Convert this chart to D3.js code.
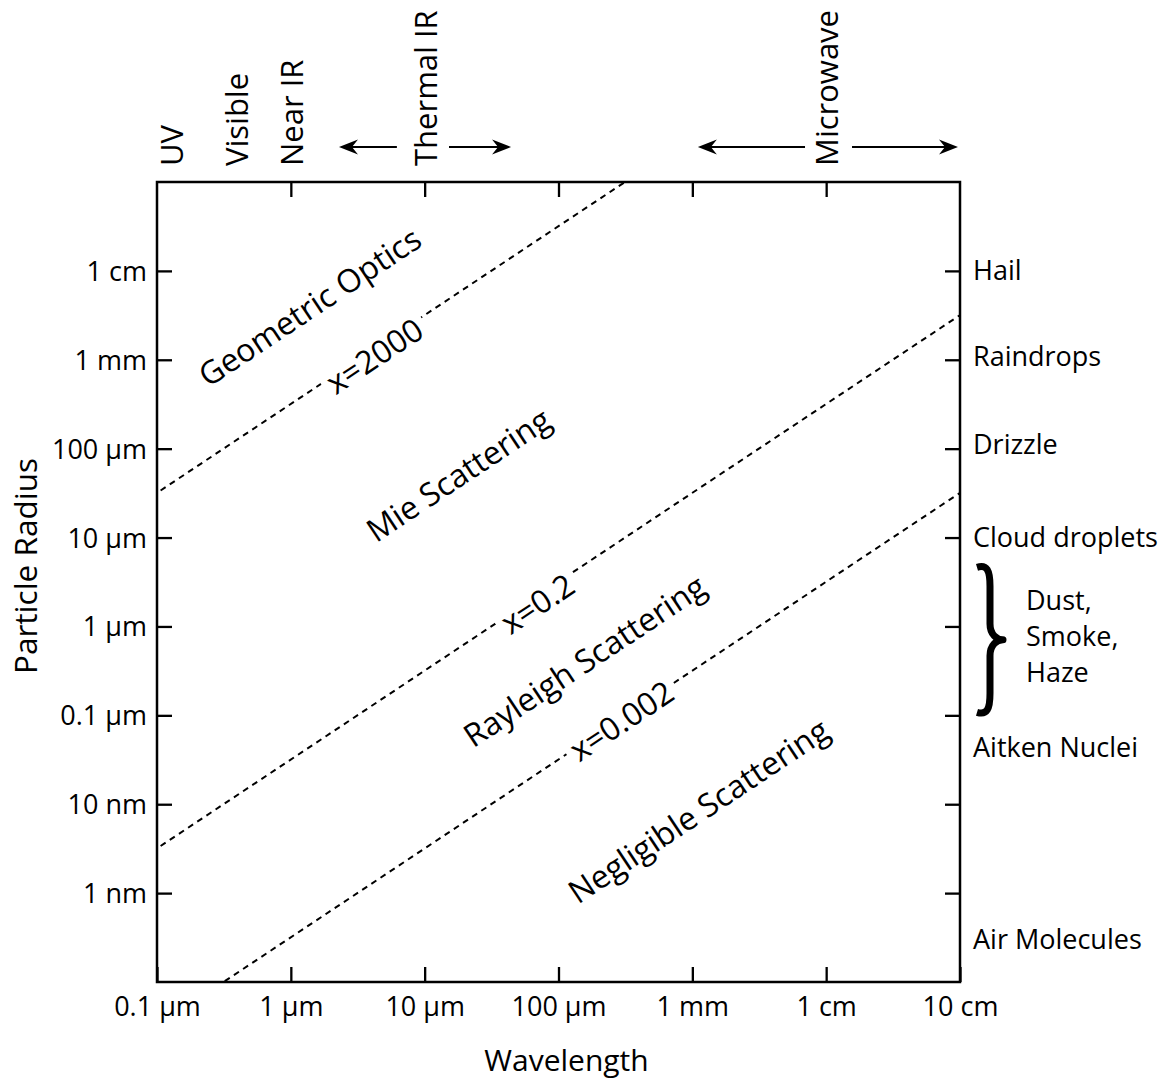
<!DOCTYPE html>
<html><head><meta charset="utf-8">
<script src="https://cdn.jsdelivr.net/npm/d3@7"></script>
<style>
body{margin:0;background:#fff}
text{font-family:"Open Sans",sans-serif;fill:#000}
</style>
</head><body>
<svg id="c" width="1171" height="1082"></svg>
<script>
// ---- data (metres) ----
const xTickValues = [1e-7, 1e-6, 1e-5, 1e-4, 1e-3, 1e-2, 1e-1];
const xTickLabels = ["0.1 μm", "1 μm", "10 μm", "100 μm", "1 mm", "1 cm", "10 cm"];
const yTickValues = [1e-2, 1e-3, 1e-4, 1e-5, 1e-6, 1e-7, 1e-8, 1e-9];
const yTickLabels = ["1 cm", "1 mm", "100 μm", "10 μm", "1 μm", "0.1 μm", "10 nm", "1 nm"];
const sizeParameters = [2000, 0.2, 0.002];
const lineLabels = ["x=2000", "x=0.2", "x=0.002"];
const lineLabelPos = [[4.18e-6, 1.13e-3], [6.9e-5, 1.84e-6], [2.93e-4, 8.85e-8]];
const regionNames = ["Geometric Optics", "Mie Scattering", "Rayleigh Scattering", "Negligible Scattering"];
const regionPos = [[1.37e-6, 4.03e-3], [1.77e-5, 5.19e-5], [1.55e-4, 4.19e-7], [1.1e-3, 8.6e-9]];
const bandNames = ["UV", "Visible", "Near IR", "Thermal IR", "Microwave"];
const bandPos = [1.27e-7, 3.9e-7, 1e-6, 1e-5, 1e-2];
const bandArrows = [[6.2e-6, 2.29e-6], [1.52e-5, 4.42e-5], [6.95e-3, 1.1e-3], [1.56e-2, 9.66e-2]]; // [tail, tip]
const particleNames = ["Hail", "Raindrops", "Drizzle", "Cloud droplets", "Aitken Nuclei", "Air Molecules"];
const particleRadii = [1e-2, 1.1e-3, 1.12e-4, 1e-5, 4.3e-8, 3e-10];
const aerosolRange = [1e-7, 5e-6];
const aerosolNames = ["Dust,", "Smoke,", "Haze"];

// ---- layout ----
const L = 157, R = 960, T = 182, B = 982;
const svg = d3.select("#c");
const x = d3.scaleLog().domain([1e-7, 1e-1]).range([L, R]);
const y = d3.scaleLog().domain([1e-10, 1e-1]).range([B, T]);
const TICK = 15;
const SMALL = 27, BIG = 32;

// clip
svg.append("clipPath").attr("id", "clip").append("rect")
  .attr("x", L).attr("y", T).attr("width", R - L).attr("height", B - T);

// dashed lines r = x*λ/(2π)
const lineGen = d3.line().x(d => x(d[0])).y(d => y(d[1]));
const lg = svg.append("g").attr("clip-path", "url(#clip)");
sizeParameters.forEach(p => {
  const pts = [1e-8, 1].map(l => [l, p * l / (2 * Math.PI)]);
  lg.append("path").attr("d", lineGen(pts))
    .attr("fill", "none").attr("stroke", "#000").attr("stroke-width", 2)
    .attr("stroke-dasharray", "6,5");
});

const angle = Math.atan2(y(1e-3) - y(1e-4), x(1e-3) - x(1e-4)) * 180 / Math.PI;

function diagLabel(txt, pos, bg) {
  const g = svg.append("g")
    .attr("transform", `translate(${x(pos[0])},${y(pos[1])}) rotate(${angle})`);
  const t = g.append("text").attr("text-anchor", "middle")
    .attr("dominant-baseline", "central").attr("font-size", BIG).text(txt);
  if (bg) {
    const b = t.node().getBBox();
    g.insert("rect", "text").attr("x", b.x - 6).attr("y", b.y + 4)
      .attr("width", b.width + 12).attr("height", b.height - 8).attr("fill", "#fff");
  }
}
lineLabels.forEach((t, i) => diagLabel(t, lineLabelPos[i], true));
regionNames.forEach((t, i) => diagLabel(t, regionPos[i], false));

// frame
svg.append("rect").attr("x", L).attr("y", T).attr("width", R - L).attr("height", B - T)
  .attr("fill", "none").attr("stroke", "#000").attr("stroke-width", 2.5);

// axes with inward ticks
const axB = d3.axisBottom(x).tickValues(xTickValues).tickFormat((d, i) => xTickLabels[i]).tickSizeInner(-TICK).tickSizeOuter(0);
const axT = d3.axisTop(x).tickValues(xTickValues.slice(1, -1)).tickFormat("").tickSizeInner(-TICK).tickSizeOuter(0);
const axL = d3.axisLeft(y).tickValues(yTickValues).tickFormat((d, i) => yTickLabels[i]).tickSizeInner(-TICK).tickSizeOuter(0).tickPadding(10);
const axR = d3.axisRight(y).tickValues(yTickValues).tickFormat("").tickSizeInner(-TICK).tickSizeOuter(0);

function styleAxis(g) {
  g.select(".domain").remove();
  g.selectAll(".tick line").attr("stroke", "#000").attr("stroke-width", 2.3);
  g.selectAll(".tick text").attr("font-family", "Open Sans").attr("font-size", SMALL).attr("fill", "#000");
}
svg.append("g").attr("transform", `translate(0,${B})`).call(axB).call(styleAxis)
  .selectAll(".tick text").attr("dy", null).attr("y", 34);
svg.append("g").attr("transform", `translate(0,${T})`).call(axT).call(styleAxis);
svg.append("g").attr("transform", `translate(${L},0)`).call(axL).call(styleAxis)
  .selectAll(".tick text").attr("dy", "0.35em");
svg.append("g").attr("transform", `translate(${R},0)`).call(axR).call(styleAxis);

// axis titles
svg.append("text").attr("x", (L + R) / 2 + 8).attr("y", 1071).attr("text-anchor", "middle")
  .attr("font-size", 30).text("Wavelength");
svg.append("text").attr("transform", `translate(37,${(T + B) / 2 - 16}) rotate(-90)`)
  .attr("text-anchor", "middle").attr("font-size", 31.5).text("Particle Radius");

// band labels (top)
bandNames.forEach((n, i) => {
  svg.append("text").attr("transform", `translate(${x(bandPos[i]) + 12},166) rotate(-90)`)
    .attr("font-size", 31).text(n);
});
// arrows
const ay = 147;
bandArrows.forEach(a => {
  const x0 = x(a[0]), x1 = x(a[1]);
  const dir = Math.sign(x1 - x0);
  svg.append("line").attr("x1", x0).attr("x2", x1 - dir * 10).attr("y1", ay).attr("y2", ay)
    .attr("stroke", "#000").attr("stroke-width", 2);
  const p = d3.path();
  p.moveTo(x1, ay);
  p.lineTo(x1 - dir * 19, ay - 7.5);
  p.lineTo(x1 - dir * 13, ay);
  p.lineTo(x1 - dir * 19, ay + 7.5);
  p.closePath();
  svg.append("path").attr("d", p.toString()).attr("fill", "#000");
});

// particle labels (right)
particleNames.forEach((n, i) => {
  svg.append("text").attr("x", R + 13).attr("y", y(particleRadii[i])).attr("dy", "0.35em")
    .attr("font-size", SMALL).text(n);
});

// brace
const y0 = y(aerosolRange[1]), y1 = y(aerosolRange[0]), ym = (y0 + y1) / 2;
const bx0 = R + 17, bx1 = R + 30, bx2 = R + 43;
const bp = d3.path();
bp.moveTo(bx0, y0 + 3);
bp.bezierCurveTo(bx0 + 10, y0, bx1, y0 + 6, bx1, y0 + 22);
bp.lineTo(bx1, ym - 16);
bp.bezierCurveTo(bx1, ym - 5, bx2 - 6, ym, bx2, ym);
bp.bezierCurveTo(bx2 - 6, ym, bx1, ym + 5, bx1, ym + 16);
bp.lineTo(bx1, y1 - 22);
bp.bezierCurveTo(bx1, y1 - 6, bx0 + 10, y1, bx0, y1 - 3);
svg.append("path").attr("d", bp.toString()).attr("fill", "none")
  .attr("stroke", "#000").attr("stroke-width", 7).attr("stroke-linejoin", "round");
aerosolNames.forEach((n, i) => {
  svg.append("text").attr("x", R + 66).attr("y", ym - 30 + i * 36).attr("font-size", SMALL).text(n);
});
</script>
</body></html>
